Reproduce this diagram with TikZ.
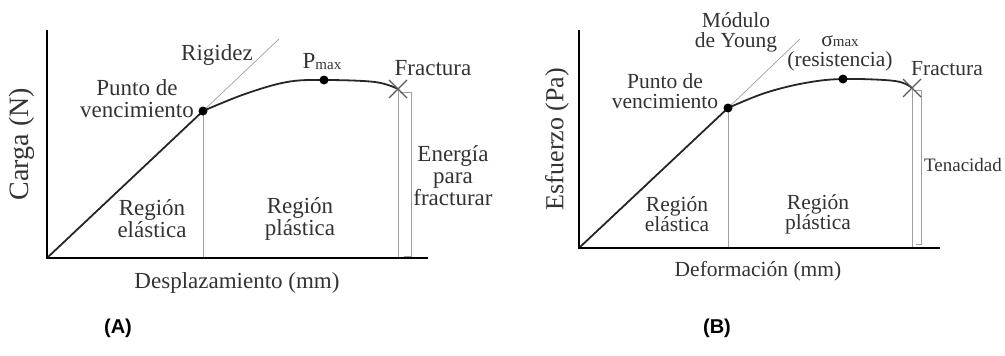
\documentclass[tikz,border=0pt]{standalone}
\usepackage{fontspec}
\usetikzlibrary{calc}
\setmainfont{Liberation Serif}
\newfontfamily\lettrefont{Liberation Sans}
\begin{document}
\begin{tikzpicture}[x=1pt,y=-1pt,
  axe/.style={line width=2pt,black},
  courbe/.style={line width=1.8pt,black!85},
  guide/.style={gray!75,line width=0.7pt},
  croix/.style={gray!70!black,line width=1.1pt},
  txt/.style={text=black!80,font=\fontsize{23}{22}\selectfont,align=center,inner sep=0pt},
  txtb/.style={txt,font=\fontsize{21.5}{20}\selectfont},
  point/.style={circle,fill=black,inner sep=0pt,minimum size=9pt}]
\useasboundingbox (0,0) rectangle (1005,356);

% Graphique (A)
\coordinate (oA) at (47,258);
\coordinate (hA) at (47,30);
\coordinate (dA) at (428,258);
\coordinate (yA) at (203,111);
\coordinate (rA) at (279,39);
\coordinate (fA) at (398,89);
\draw [guide] (yA) -- (rA);
\draw [guide] (yA) -- (yA |- oA);
\draw [guide] (fA) -- (fA |- oA);
\draw [guide] (400,92) -- (411,92) -- (411,256) -- (404,256);
\draw [courbe] (oA) -- (yA);
\draw [courbe] plot[smooth,tension=0.6]
      coordinates{(203,111) (245,94) (287,82) (324,80) (375,82) (398,89)};
\foreach \s in {-1,1}
\draw [croix] ($(fA)+(-9,-9*\s)$) -- ($(fA)+(9,9*\s)$);
\node [point] (yieldA) at (yA) {};
\node [point] (pmaxA) at (324,80) {};
\draw [axe] (hA) -- (oA) -- (dA);

\node [txt] (rig) at (217,55) {Rigidez};
\node [txt] (pmax) at (322,62) {P\raisebox{-1pt}{\fontsize{15}{15}\selectfont max}};
\node [txt] (fracA) at (433,68) {Fractura};
\node [txt] (puntoA) at (137,99) {Punto de\\vencimiento};
\node [txt] (elasA) at (152,219) {Región\\elástica};
\node [txt] (plasA) at (300,219) {Región\\plástica};
\node [txt] (energ) at (453,176) {Energía\\para\\fracturar};
\node [txt] (despl) at (237,283) {Desplazamiento (mm)};
\node [txt,font=\fontsize{28}{28}\selectfont,rotate=90] (carga) at (22,144) {Carga (N)};
\node [font=\lettrefont\bfseries\fontsize{20}{22}\selectfont] (letA) at (118,328) {(A)};

% Graphique (B)
\coordinate (oB) at (579,248);
\coordinate (hB) at (579,30);
\coordinate (dB) at (940,248);
\coordinate (yB) at (728,108);
\coordinate (rB) at (800,39);
\coordinate (fB) at (912,88);
\draw [guide] (yB) -- (rB);
\draw [guide] (yB) -- (yB |- oB);
\draw [guide] (fB) -- (fB |- oB);
\draw [guide] (914,90) -- (921,90) -- (921,244) -- (916,244);
\draw [courbe] (oB) -- (yB);
\draw [courbe] plot[smooth,tension=0.6]
      coordinates{(728,108) (765,93) (805,83) (843,79) (895,81) (912,88)};
\foreach \s in {-1,1}
\draw [croix] ($(fB)+(-9,-9*\s)$) -- ($(fB)+(9,9*\s)$);
\node [point] (yieldB) at (yB) {};
\node [point] (smaxB) at (843,79) {};
\draw [axe] (hB) -- (oB) -- (dB);

\node [txtb] (modulo) at (736,32) {Módulo\\de Young};
\node [txtb] (smax) at (840,53) {σ\raisebox{0pt}{\fontsize{15}{15}\selectfont max}\\(resistencia)};
\node [txtb] (fracB) at (947,69) {Fractura};
\node [txtb] (puntoB) at (665,91) {Punto de\\vencimiento};
\node [txtb] (elasB) at (677,214) {Región\\elástica};
\node [txtb] (plasB) at (818,214) {Región\\plástica};
\node [txt,font=\fontsize{19}{19}\selectfont] (tenac) at (963,165) {Tenacidad};
\node [txtb] (deform) at (758,271) {Deformación (mm)};
\node [txtb,font=\fontsize{26}{26}\selectfont,rotate=90] (esfz) at (557,139) {Esfuerzo (Pa)};
\node [font=\lettrefont\bfseries\fontsize{20}{22}\selectfont] (letB) at (717,328) {(B)};

\end{tikzpicture}
\end{document}
